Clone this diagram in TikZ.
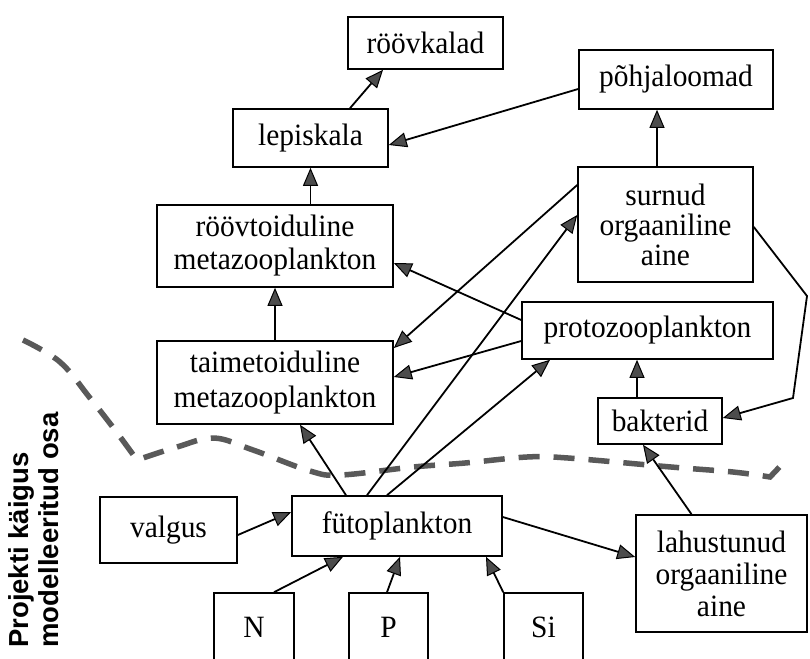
\documentclass[tikz,border=0pt]{standalone}
\usepackage{fontspec}
\setmainfont{Liberation Serif}[FakeStretch=0.95]
\newfontfamily\lsans{Liberation Sans}
\usetikzlibrary{arrows.meta,calc}
\begin{document}
\begin{tikzpicture}[x=1pt,y=-1pt,
  box/.style={draw, line width=1.6pt, rectangle, inner sep=0pt, align=center, font=\fontsize{31}{33}\selectfont},
  arr/.style={line width=1.8pt, -{Triangle[length=18pt,width=15pt,fill=black!70,line width=1pt]}},
  bnd/.style={line width=5.5pt, draw=black!65, dash pattern=on 21pt off 14pt},
  lbl/.style={rotate=90, anchor=base west, inner sep=0pt, font=\lsans\bfseries\fontsize{27.5}{30}\selectfont}]
\useasboundingbox (0,0) rectangle (810,658);
\clip (0,0) rectangle (810,658);
\fill[white] (0,0) rectangle (810,658);
% boxes
\node[box, minimum width=155pt, minimum height=52pt] (rk) at (425.5,43) {röövkalad};
\node[box, minimum width=194pt, minimum height=59pt] (pl) at (676,79.5) {põhjaloomad};
\node[box, minimum width=155pt, minimum height=58pt] (lk) at (310.5,138) {lepiskala};
\node[box, minimum width=236pt, minimum height=82pt] (rt) at (275,246) {röövtoiduline\\metazooplankton};
\node[box, minimum width=175pt, minimum height=115pt, font=\fontsize{31}{30}\selectfont] (so) at (665.5,224.5) {surnud\\orgaaniline\\aine};
\node[box, minimum width=251pt, minimum height=57pt] (pz) at (647.5,330.5) {protozooplankton};
\node[box, minimum width=236pt, minimum height=83pt, font=\fontsize{31}{35}\selectfont] (tt) at (275,382.5) {taimetoiduline\\metazooplankton};
\node[box, minimum width=124pt, minimum height=46pt] (bk) at (660,421) {bakterid};
\node[box, minimum width=137pt, minimum height=66pt] (vg) at (168.5,530) {valgus};
\node[box, minimum width=210pt, minimum height=60pt] (fp) at (397,526) {fütoplankton};
\node[box, minimum width=171pt, minimum height=117pt, font=\fontsize{31}{32}\selectfont] (lo) at (721.5,573.5) {lahustunud\\orgaaniline\\aine};
\node[box, minimum width=80pt, minimum height=68pt] (nn) at (254,627) {N};
\node[box, minimum width=79pt, minimum height=68pt] (pp) at (388.5,627) {P};
\node[box, minimum width=79pt, minimum height=68pt] (si) at (543.5,627) {Si};
% side label
\node[lbl] (lab1) at (28,648) {Projekti käigus};
\node[lbl] (lab2) at (58,648) {modelleeritud osa};
% boundary of modelled part
\draw[bnd] plot[smooth, tension=0.6] coordinates {(23,340) (60,362) (90,398) (115,430) (137,460)}
  -- plot[smooth, tension=0.6] coordinates {(137,460) (177,447) (214,438) (253,450) (310,471) (341,475) (413,467) (465,463) (527,457) (568,458) (671,467) (733,472) (770,477)}
  -- (788,458);
% bend points
\coordinate (c1) at (807,296);
\coordinate (c2) at (793,398);
% connectors
\draw[arr] ([xshift=39.5pt]lk.north) -- ([xshift=-42.5pt]rk.south);
\draw[arr] ([yshift=-9.5pt]pl.west) -- ([yshift=-7pt]lk.east);
\draw[arr] (lk.south |- rt.north) -- (lk.south);
\draw[arr] ([xshift=-8.5pt]so.north) -- ([xshift=-8.5pt]so.north |- pl.south);
\draw[arr] (tt.north) -- (rt.south);
\draw[arr] ([yshift=10.5pt]pz.west) -- ([yshift=-17pt]rt.east);
\draw[arr] ([yshift=39.5pt]so.west) -- ([yshift=34.5pt]tt.east);
\draw[arr] ([yshift=-10.5pt]pz.west) -- ([yshift=5.5pt]tt.east);
\draw[arr] ([xshift=-51pt]fp.north) -- ([xshift=25pt]tt.south);
\draw[arr] ([xshift=-30pt]fp.north) -- ([yshift=9.5pt]so.west);
\draw[arr] ([xshift=-10pt]fp.north) -- ([xshift=-97.5pt]pz.south);
\draw[arr] ([xshift=-23pt]bk.north) -- ([xshift=-23pt]bk.north |- pz.south);
\draw[arr] ([yshift=-2.5pt]so.east) -- (c1) -- (c2) -- ([yshift=3pt]bk.east);
\draw[arr] ([xshift=-30pt]lo.north) -- ([xshift=-17pt]bk.south);
\draw[arr] ([yshift=-5pt]vg.east) -- ([yshift=14pt]fp.west);
\draw[arr] ([yshift=9pt]fp.east) -- ([yshift=16.5pt]lo.west);
\draw[arr] ([xshift=20pt]nn.north) -- ([xshift=-54pt]fp.south);
\draw[arr] ([xshift=-1.5pt]pp.north) -- ([xshift=3pt]fp.south);
\draw[arr] (si.north west) -- ([xshift=89pt]fp.south);
\end{tikzpicture}
\end{document}
